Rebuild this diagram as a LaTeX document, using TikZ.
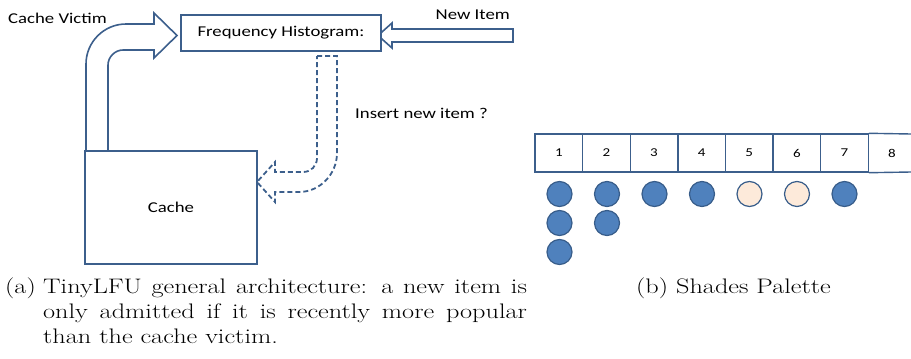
\documentclass[tikz,border=0pt]{standalone}
\usepackage{fontspec}
\usepackage{graphicx}
\newfontfamily\calib{Carlito}
\newcommand{\sx}[1]{\scalebox{1.25}[1]{#1}}
\definecolor{edge}{RGB}{60,95,140}
\definecolor{dotblue}{RGB}{79,129,189}
\definecolor{dotedge}{RGB}{56,93,138}
\definecolor{peach}{RGB}{253,234,218}
\begin{document}
\begin{tikzpicture}[x=1pt,y=-1pt,
  box/.style={draw=edge, line width=1.6pt, fill=white, inner sep=0pt, font=\calib\fontsize{15}{18}\selectfont},
  lbl/.style={inner sep=0pt, font=\calib\fontsize{15}{18}\selectfont},
  blockarrow/.style={draw=edge, line width=1.6pt, fill=white, line join=miter},
  dasharrow/.style={draw=edge, line width=1.8pt, dash pattern=on 5pt off 3pt},
  cell/.style={draw=edge, line width=1.4pt, minimum width=47.6pt, minimum height=38pt, inner sep=0pt, font=\calib\fontsize{12}{14}\selectfont},
  dot/.style={circle, draw=dotedge, line width=1.2pt, fill=dotblue, minimum size=25pt, inner sep=0pt},
  pdot/.style={dot, fill=peach},
  capt/.style={inner sep=0pt, anchor=base west, font=\fontsize{21}{25}\selectfont}]
\useasboundingbox (0,0) rectangle (911,359);

% block arrows
\draw[blockarrow] (86,152) -- (86,64) .. controls (86,42) and (104,24) .. (126,24)
  -- (154,24) -- (154,13) -- (177,35.5) -- (154,58) -- (154,50) -- (123,50)
  .. controls (115,50) and (108,57) .. (108,65) -- (108,152);
\draw[blockarrow] (513,29) -- (392,29) -- (392,23) -- (378,35.5) -- (392,48) -- (392,42) -- (513,42) -- cycle;
\draw[dasharrow] (317,56) -- (337,56) -- (337,153) .. controls (337,174) and (320,192) .. (299,192)
  -- (275,192) -- (275,202) -- (257,182) -- (275,162) -- (275,172) -- (303,172)
  .. controls (311,172) and (317,166) .. (317,158) -- cycle;

% boxes
\node[box, minimum width=200pt, minimum height=36pt] (hist) at (281,33) {\sx{Frequency Histogram:}};
\node[box, minimum width=172pt, minimum height=113pt] (cache) at (171,207.5) {\sx{Cache}};

% labels
\node[lbl, anchor=west] (cv) at (8,18) {\sx{Cache Victim}};
\node[lbl, anchor=east] (ni) at (510,15) {\sx{New Item}};
\node[lbl, anchor=west] (ins) at (355,113) {\sx{Insert new item ?}};

% palette
\foreach \i in {1,...,7} {
  \node[cell] (c\i) at ({535+47.6*(\i-0.5)},153) {\sx{\i}};
}
\draw[draw=edge, line width=1.4pt] (c7.north east) -- (911,134);
\draw[draw=edge, line width=1.4pt] (c7.south east) -- (911,172);
\node[inner sep=0pt, font=\calib\fontsize{12}{14}\selectfont] (c8) at (892,153) {\sx{8}};

\node[dot] (d11) at (559.5,194) {};
\node[dot] (d12) at (559.5,223) {};
\node[dot] (d13) at (559.5,252) {};
\node[dot] (d21) at (607,194) {};
\node[dot] (d22) at (607,223) {};
\node[dot] (d3) at (654.5,194) {};
\node[dot] (d4) at (702,194) {};
\node[pdot] (d5) at (749.5,194) {};
\node[pdot] (d6) at (797,194) {};
\node[dot] (d7) at (844.5,194) {};

% captions
\node[capt] (ca) at (5,293) {\sx{(a)}};
\node[capt] (ca1) at (43,293) {\sx{\hbox to 387pt{TinyLFU general architecture: a new item is}}};
\node[capt] (ca2) at (43,318) {\sx{\hbox to 387pt{only admitted if it is recently more popular}}};
\node[capt] (ca3) at (43,343) {\sx{than the cache victim.}};
\node[capt] (cb) at (636,293) {\sx{(b) Shades Palette}};
\end{tikzpicture}
\end{document}
